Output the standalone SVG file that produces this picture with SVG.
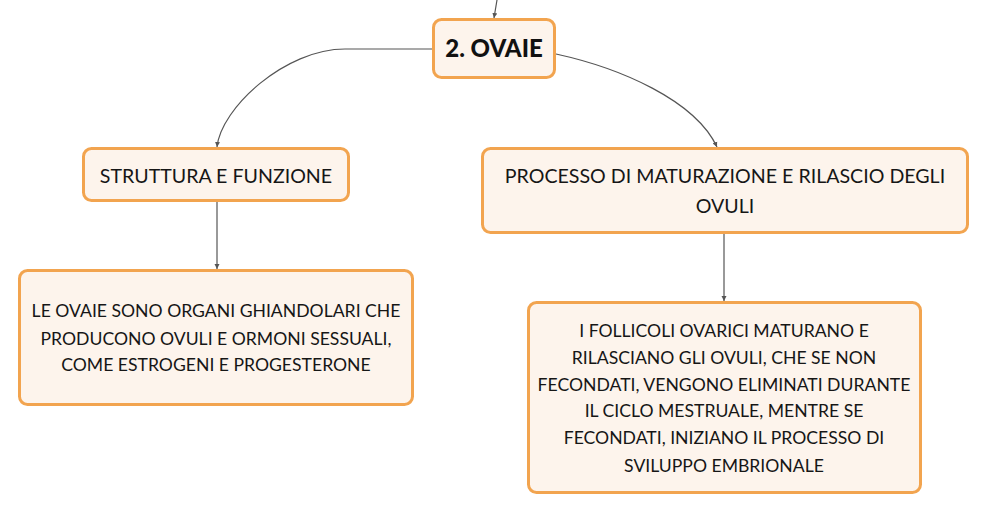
<svg xmlns="http://www.w3.org/2000/svg" width="988" height="514" viewBox="0 0 988 514">
<defs>
<marker id="arr" markerWidth="6" markerHeight="6" refX="5" refY="3" orient="auto" markerUnits="userSpaceOnUse">
<path d="M0,0.5 L5,3 L0,5.5 Z" fill="#555"/>
</marker>
<style>
.box{fill:#FDF4EC;stroke:#F2A44F;stroke-width:3}
.h{font-family:Lato,"Noto Sans",sans-serif;font-size:19.6px;fill:#161616;text-anchor:middle}
.t{font-family:Lato,"Noto Sans",sans-serif;font-size:17.6px;fill:#161616;text-anchor:middle}
.title{font-family:Lato,"Noto Sans",sans-serif;font-size:24px;font-weight:900;fill:#111;text-anchor:middle}
.c{fill:none;stroke:#555;stroke-width:1.2;marker-end:url(#arr)}
</style>
</defs>
<rect width="988" height="514" fill="#fff"/>
<g id="connectors">
<path class="c" d="M497,0 L494,18"/>
<path class="c" d="M433,49 L345,49 C285,49 221,108 217,147"/>
<path class="c" d="M556,54 C620,68 695,100 717,147"/>
<path class="c" d="M217,202 L217,269"/>
<path class="c" d="M724,234 L724,301"/>
</g>
<g id="n-ovaie">
<rect class="box" x="433.5" y="19.5" width="121" height="58" rx="8"/>
<text class="title" x="494" y="57.3">2. OVAIE</text>
</g>
<g id="n-struttura">
<rect class="box" x="83.5" y="148.5" width="265" height="52" rx="8"/>
<text class="h" x="216" y="182.7">STRUTTURA E FUNZIONE</text>
</g>
<g id="n-processo">
<rect class="box" x="482.5" y="148.5" width="485" height="84" rx="8"/>
<text class="h" x="725" y="183.3">PROCESSO DI MATURAZIONE E RILASCIO DEGLI</text>
<text class="h" x="725" y="212.7">OVULI</text>
</g>
<g id="n-ovaie-desc">
<rect class="box" x="19.5" y="270.5" width="393" height="134" rx="8"/>
<text class="t" x="216" y="317.3">LE OVAIE SONO ORGANI GHIANDOLARI CHE</text>
<text class="t" x="216" y="344.5">PRODUCONO OVULI E ORMONI SESSUALI,</text>
<text class="t" x="216" y="371">COME ESTROGENI E PROGESTERONE</text>
</g>
<g id="n-follicoli">
<rect class="box" x="528.5" y="302.5" width="392" height="190" rx="8"/>
<text class="t" x="724" y="337.3">I FOLLICOLI OVARICI MATURANO E</text>
<text class="t" x="724" y="364.3">RILASCIANO GLI OVULI, CHE SE NON</text>
<text class="t" x="724" y="390.7">FECONDATI, VENGONO ELIMINATI DURANTE</text>
<text class="t" x="724" y="417.3">IL CICLO MESTRUALE, MENTRE SE</text>
<text class="t" x="724" y="444">FECONDATI, INIZIANO IL PROCESSO DI</text>
<text class="t" x="724" y="471.7">SVILUPPO EMBRIONALE</text>
</g>
</svg>
